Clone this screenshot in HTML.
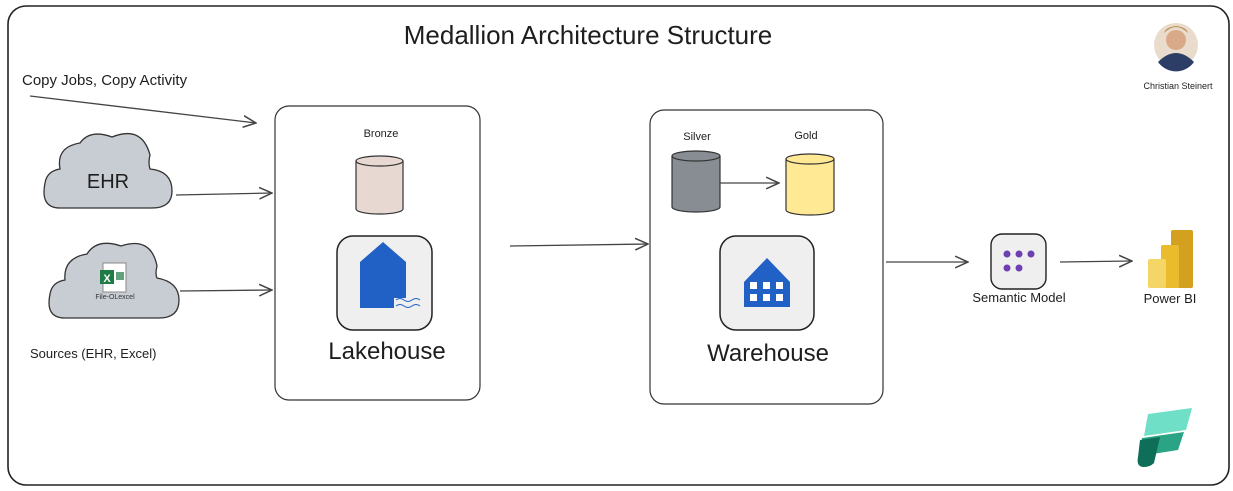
<!DOCTYPE html>
<html><head><meta charset="utf-8"><style>
html,body{margin:0;padding:0;background:#fff;}
svg{display:block;font-family:"Liberation Sans",sans-serif;}
</style></head><body>
<svg width="1233" height="491" viewBox="0 0 1233 491" xmlns="http://www.w3.org/2000/svg">
<defs>
<marker id="a" viewBox="0 0 12 12" refX="11" refY="6" markerWidth="14" markerHeight="14" orient="auto" markerUnits="userSpaceOnUse">
<path d="M0,1 L11,6 L0,11" fill="none" stroke="#444" stroke-width="1.3"/></marker>
</defs>
<rect x="8" y="6" width="1221" height="479" rx="18" fill="#fff" stroke="#222" stroke-width="1.6"/>
<text x="588" y="44" font-size="26" text-anchor="middle" fill="#1e1e1e">Medallion Architecture Structure</text>
<!-- avatar -->
<circle cx="1176" cy="45" r="22" fill="#e9dccd"/>
<circle cx="1176" cy="40" r="10" fill="#d9a98a"/>
<path d="M1164,33 q12,-12 24,0 q-2,-6 -12,-7 q-10,1 -12,7z" fill="#b8874a"/>
<path d="M1158,62 q18,-18 36,0 a22,22 0 0 1 -36,0z" fill="#2c3e66"/>
<text x="1178" y="89" font-size="9" text-anchor="middle" fill="#1e1e1e">Christian Steinert</text>
<text x="22" y="85" font-size="15" fill="#1e1e1e">Copy Jobs, Copy Activity</text>
<line x1="30" y1="96" x2="256" y2="123" stroke="#444" stroke-width="1.3" marker-end="url(#a)"/>
<!-- clouds -->
<path d="M60,208 q-20,0 -15,-25 q2,-12 15,-14 q-4,-22 20,-26 q10,-14 32,-6 q30,-12 38,18 q-2,8 0,14 q22,2 22,22 q0,17 -20,17z" fill="#c8ccd3" stroke="#333" stroke-width="1.3"/>
<text x="108" y="188" font-size="20" text-anchor="middle" fill="#1e1e1e">EHR</text>
<path d="M65,318 q-20,0 -15,-24 q2,-12 15,-14 q-2,-22 22,-26 q10,-16 34,-8 q30,-10 36,20 q-2,8 0,12 q22,4 22,22 q0,18 -20,18z" fill="#c8ccd3" stroke="#333" stroke-width="1.3"/>
<rect x="103" y="263" width="23" height="29" fill="#fff" stroke="#888" stroke-width="1"/>
<rect x="100" y="270" width="14" height="14" fill="#1e7b45"/>
<text x="107" y="282" font-size="11" text-anchor="middle" fill="#fff" font-weight="bold">X</text>
<rect x="116" y="272" width="8" height="8" fill="#1e7b45" opacity=".7"/>
<text x="115" y="299" font-size="7" text-anchor="middle" fill="#333">File-OLexcel</text>
<line x1="176" y1="195" x2="272" y2="193" stroke="#444" stroke-width="1.3" marker-end="url(#a)"/>
<line x1="180" y1="291" x2="272" y2="290" stroke="#444" stroke-width="1.3" marker-end="url(#a)"/>
<text x="30" y="358" font-size="13" fill="#1e1e1e">Sources (EHR, Excel)</text>
<!-- lakehouse -->
<rect x="275" y="106" width="205" height="294" rx="14" fill="#fff" stroke="#333" stroke-width="1.2"/>
<text x="381" y="137" font-size="11" text-anchor="middle" fill="#1e1e1e">Bronze</text>
<path d="M356,161 v48 a23.5,5 0 0 0 47,0 v-48" fill="#e8d8d2" stroke="#333" stroke-width="1.2"/>
<ellipse cx="379.5" cy="161" rx="23.5" ry="5" fill="#e8d8d2" stroke="#333" stroke-width="1.2"/>
<rect x="337" y="236" width="95" height="94" rx="16" fill="#efefef" stroke="#222" stroke-width="1.5"/>
<path d="M360,262 l23,-20 l23,20 v36 h-12 v10 h-34z" fill="#2160c4"/>
<path d="M396,300 q4,-3 8,0 q4,3 8,0 q4,-3 8,0 M396,306 q4,-3 8,0 q4,3 8,0 q4,-3 8,0" fill="none" stroke="#2160c4" stroke-width="1"/>
<text x="387" y="359" font-size="24" text-anchor="middle" fill="#1e1e1e">Lakehouse</text>
<line x1="510" y1="246" x2="648" y2="244" stroke="#444" stroke-width="1.3" marker-end="url(#a)"/>
<!-- warehouse -->
<rect x="650" y="110" width="233" height="294" rx="14" fill="#fff" stroke="#333" stroke-width="1.2"/>
<text x="697" y="140" font-size="11" text-anchor="middle" fill="#1e1e1e">Silver</text>
<text x="806" y="139" font-size="11" text-anchor="middle" fill="#1e1e1e">Gold</text>
<path d="M672,156 v51 a24,5 0 0 0 48,0 v-51" fill="#878d93" stroke="#333" stroke-width="1.2"/>
<ellipse cx="696" cy="156" rx="24" ry="5" fill="#878d93" stroke="#333" stroke-width="1.2"/>
<path d="M786,159 v51 a24,5 0 0 0 48,0 v-51" fill="#ffe994" stroke="#333" stroke-width="1.2"/>
<ellipse cx="810" cy="159" rx="24" ry="5" fill="#ffe994" stroke="#333" stroke-width="1.2"/>
<line x1="720" y1="183" x2="779" y2="183" stroke="#444" stroke-width="1.3" marker-end="url(#a)"/>
<rect x="720" y="236" width="94" height="94" rx="16" fill="#efefef" stroke="#222" stroke-width="1.5"/>
<path d="M744,282 l23,-24 l23,24 v25 h-46z" fill="#2160c4"/>
<g fill="#fff"><rect x="750" y="282" width="7" height="7"/><rect x="763" y="282" width="7" height="7"/><rect x="776" y="282" width="7" height="7"/><rect x="750" y="294" width="7" height="7"/><rect x="763" y="294" width="7" height="7"/><rect x="776" y="294" width="7" height="7"/></g>
<text x="768" y="361" font-size="24" text-anchor="middle" fill="#1e1e1e">Warehouse</text>
<line x1="886" y1="262" x2="968" y2="262" stroke="#444" stroke-width="1.3" marker-end="url(#a)"/>
<!-- semantic model -->
<rect x="991" y="234" width="55" height="55" rx="11" fill="#efefef" stroke="#222" stroke-width="1.4"/>
<g fill="#6d3fb0"><circle cx="1007" cy="254" r="3.5"/><circle cx="1019" cy="254" r="3.5"/><circle cx="1031" cy="254" r="3.5"/><circle cx="1007" cy="268" r="3.5"/><circle cx="1019" cy="268" r="3.5"/></g>
<text x="1019" y="302" font-size="13" text-anchor="middle" fill="#1e1e1e">Semantic Model</text>
<line x1="1060" y1="262" x2="1132" y2="261" stroke="#444" stroke-width="1.3" marker-end="url(#a)"/>
<!-- power bi -->
<rect x="1171" y="230" width="22" height="58" rx="2" fill="#d4a020"/>
<rect x="1161" y="245" width="18" height="43" rx="2" fill="#ebbb2e"/>
<rect x="1148" y="259" width="18" height="29" rx="2" fill="#f5d565"/>
<text x="1170" y="303" font-size="13" text-anchor="middle" fill="#1e1e1e">Power BI</text>
<!-- fabric logo -->
<path d="M1148,414 l44,-6 l-6,22 l-42,6z" fill="#6fe0c7"/>
<path d="M1142,438 l42,-6 l-6,18 l-38,6z" fill="#2aa484"/>
<path d="M1140,440 l20,-3 l-6,26 q-4,4 -10,4 q-8,0 -6,-10z" fill="#0f6e58"/>
</svg>
</body></html>
